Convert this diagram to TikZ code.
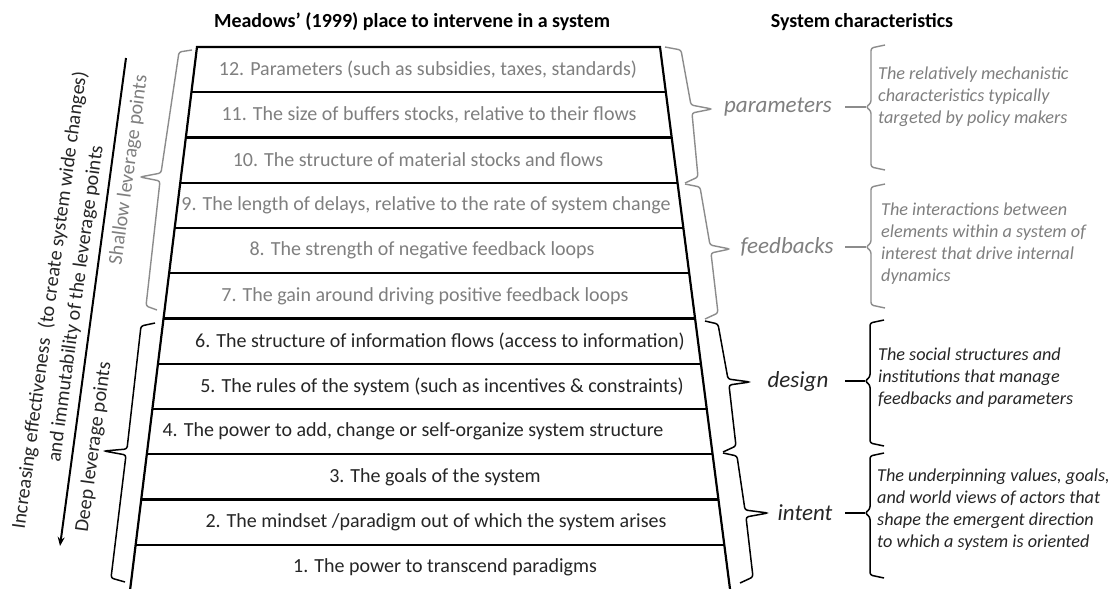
\documentclass[tikz,border=0pt]{standalone}
\usepackage{fontspec}
\setmainfont{Carlito}
\usetikzlibrary{arrows.meta}
\definecolor{gtxt}{HTML}{7F7F7F}
\definecolor{gbr}{HTML}{8C8C8C}
\definecolor{dtxt}{HTML}{262626}
\begin{document}
\begin{tikzpicture}[x=1pt,y=-1pt,
  frame/.style={line width=2.2pt, black},
  rowtxt/.style={font=\fontsize{20}{22}\selectfont, inner sep=0pt},
  head/.style={font=\bfseries\fontsize{20}{22}\selectfont, inner sep=0pt},
  side/.style={font=\fontsize{20}{26}\selectfont, inner sep=0pt, align=center, rotate=82.3},
  lbl/.style={font=\itshape\fontsize{23}{26}\selectfont, inner sep=0pt},
  desc/.style={font=\itshape\fontsize{18.2}{22}\selectfont, inner sep=0pt, align=left, anchor=west},
  gbrace/.style={gbr, line width=1.4pt, rounded corners=2.5pt},
  kbrace/.style={black, line width=1.5pt, rounded corners=2.5pt}]
\useasboundingbox (0,0) rectangle (1112,589);
\fill[white] (0,0) rectangle (1112,589);

% headers
\node[head] (h1) at (412,22) {Meadows’ (1999) place to intervene in a system};
\node[head] (h2) at (862,22) {System characteristics};

% trapezoid
\draw[frame] (130.2,589) -- (197,47) -- (660,47) -- (730,589);
\foreach \i in {1,...,11}{
  \pgfmathsetmacro\yy{47+45.25*\i}
  \pgfmathsetmacro\xl{197-0.1236*(\yy-47)}
  \pgfmathsetmacro\xr{660+0.1292*(\yy-47)}
  \draw[frame] (\xl,\yy) -- (\xr,\yy);
}

% rows
\node[rowtxt, gtxt] (r12) at (428,69.6) {12. Parameters (such as subsidies, taxes, standards)};
\node[rowtxt, gtxt] (r11) at (429,114.9) {11. The size of buffers stocks, relative to their flows};
\node[rowtxt, gtxt] (r10) at (418,160.1) {10. The structure of material stocks and flows};
\node[rowtxt, gtxt] (r9) at (426,205.4) {9. The length of delays, relative to the rate of system change};
\node[rowtxt, gtxt] (r8) at (422,250.6) {8. The strength of negative feedback loops};
\node[rowtxt, gtxt] (r7) at (425,295.9) {7. The gain around driving positive feedback loops};
\node[rowtxt, dtxt] (r6) at (440,341.1) {6. The structure of information flows (access to information)};
\node[rowtxt, dtxt] (r5) at (442,386.4) {5. The rules of the system (such as incentives \& constraints)};
\node[rowtxt, dtxt] (r4) at (413,431.6) {4. The power to add, change or self-organize system structure};
\node[rowtxt, dtxt] (r3) at (435,476.9) {3. The goals of the system};
\node[rowtxt, dtxt] (r2) at (436,522.1) {2. The mindset /paradigm out of which the system arises};
\node[rowtxt, dtxt] (r1) at (445,567.4) {1. The power to transcend paradigms};

% left arrow and texts
\coordinate (atop) at (126,58);
\coordinate (abot) at (60,546);
\draw[line width=2pt, -{Stealth[length=9pt,width=7pt]}] (atop) -- (abot);
\node[side, dtxt] (eff) at (63,302) {Increasing effectiveness\ \ (to create system wide changes)\\and immutability of the leverage points};
\node[side, gtxt] (shallow) at (129,170) {Shallow leverage points};
\node[side, dtxt] (deep) at (94,447) {Deep leverage points};

% left braces
\draw[gbrace] (192,50) -- (179,52) -- (161,173) -- (140,177) -- (160,181) -- (146,306) -- (157,310);
\draw[kbrace] (155,323) -- (141,326) -- (127,449) -- (104,451) -- (126,455) -- (111,578) -- (125,582);

% middle braces
\draw[gbrace] (665,47) -- (681,50) -- (691,105) -- (712,109) -- (692,113) -- (698,177) -- (685,183);
\draw[gbrace] (685,184) -- (700,187) -- (710,245) -- (730,249) -- (711,253) -- (718,313) -- (705,319);
\draw[kbrace] (705,321) -- (718,324) -- (728,379) -- (750,382) -- (729,385) -- (736,446) -- (723,452);
\draw[kbrace] (723,453) -- (737,456) -- (745,510) -- (768,513) -- (746,517) -- (753,577) -- (740,583);

% labels
\node[lbl, gtxt] (lpar) at (778,107) {parameters};
\node[lbl, gtxt] (lfb) at (787,247) {feedbacks};
\node[lbl, dtxt] (ldes) at (798,381) {design};
\node[lbl, dtxt] (lint) at (805,513) {intent};

% right braces
\draw[gbrace] (885,45) -- (871,48) -- (871,103) -- (866,107) -- (871,111) -- (871,167) -- (885,170);
\draw[gbrace] (885,184) -- (871,187) -- (871,243) -- (866,247) -- (871,251) -- (871,305) -- (885,308);
\draw[kbrace] (884,320) -- (870,323) -- (870,377) -- (865,381) -- (870,385) -- (870,443) -- (884,446);
\draw[kbrace] (884,453) -- (870,456) -- (870,509) -- (865,513) -- (870,517) -- (870,575) -- (884,578);

% dashes
\coordinate (dpar) at (845,107); \coordinate (tpar) at (866,107);
\coordinate (dfb) at (845,247); \coordinate (tfb) at (866,247);
\coordinate (ddes) at (845,381); \coordinate (tdes) at (865,381);
\coordinate (dint) at (845,513); \coordinate (tint) at (865,513);
\draw[gbr, line width=1.4pt] (dpar) -- (tpar);
\draw[gbr, line width=1.4pt] (dfb) -- (tfb);
\draw[black, line width=1.5pt] (ddes) -- (tdes);
\draw[black, line width=1.5pt] (dint) -- (tint);

% descriptions
\node[desc, gtxt] (xpar) at (878,97) {The relatively mechanistic\\characteristics typically\\targeted by policy makers};
\node[desc, gtxt] (xfb) at (881,244) {The interactions between\\elements within a system of\\interest that drive internal\\dynamics};
\node[desc, dtxt] (xdes) at (878,378) {The social structures and\\institutions that manage\\feedbacks and parameters};
\node[desc, dtxt] (xint) at (877,510) {The underpinning values, goals,\\and world views of actors that\\shape the emergent direction\\to which a system is oriented};
\end{tikzpicture}
\end{document}
